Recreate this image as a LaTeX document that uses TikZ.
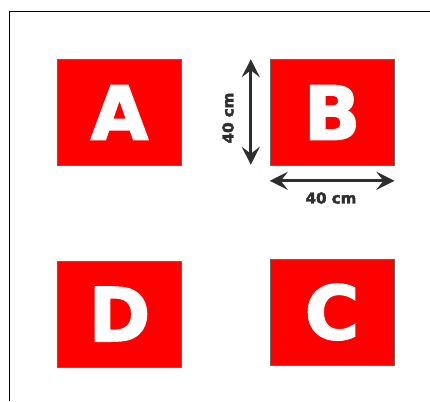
\documentclass[tikz,border=0pt]{standalone}
\usepackage{fontspec}
\setmainfont{DejaVu Sans}
\newfontfamily\heavyfont{DejaVu Sans}[BoldFeatures={FakeBold=2.5}]
\usetikzlibrary{positioning,arrows.meta}

\begin{document}
\begin{tikzpicture}
  [x=1pt,y=-1pt,
   panel/.style={rectangle,draw=gray!80!black,line width=0.6pt,fill=red,text=white,
     minimum width=124pt,minimum height=106pt,inner sep=0pt,
     font=\fontsize{74}{74}\heavyfont\bfseries},
   dimarrow/.style={line width=2.8pt,draw=black!82,
     {Stealth[length=18pt,width=18pt,inset=7pt]}-{Stealth[length=18pt,width=18pt,inset=7pt]}},
   dimlabel/.style={text=black!82,inner sep=0pt,font=\fontsize{15}{15}\heavyfont\bfseries},
   node distance=88pt]

  \useasboundingbox (0,0) rectangle (430,401);
  \draw[line width=0.9pt] (9,401) -- (9,11) -- (430,11);

  \node[panel] (A) at (119.5,112.5) {A};
  \node[panel] (B) [right=88pt of A] {B};
  \node[panel] (D) [below=95pt of A] {D};
  \node[panel] (C) [right=88pt of D,yshift=2pt] {C};

  % height of B
  \coordinate (htop) at ([xshift=-19pt]B.north west);
  \coordinate (hbot) at ([xshift=-19pt,yshift=1pt]B.south west);
  \draw[dimarrow] (htop) -- (hbot);
  \node[dimlabel,rotate=90] (hlabel) at (228,118) {40 cm};

  % width of B
  \coordinate (wleft) at ([yshift=-15pt]B.south west);
  \coordinate (wright) at ([yshift=-15pt]B.south east);
  \draw[dimarrow] (wleft) -- (wright);
  \node[dimlabel] (wlabel) at (331,198) {40 cm};

\end{tikzpicture}
\end{document}
